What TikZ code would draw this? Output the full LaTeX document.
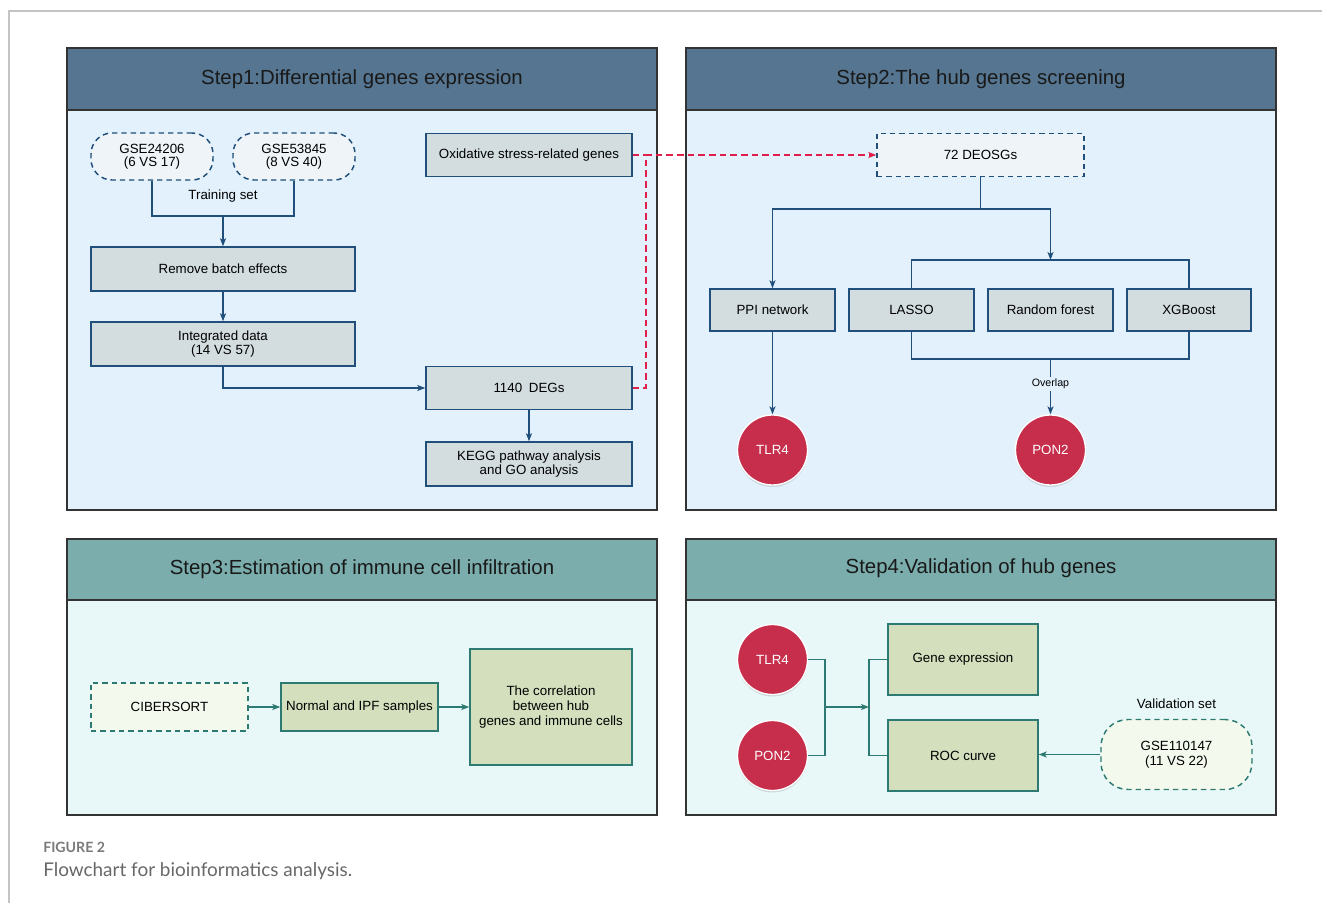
\documentclass[tikz,border=0pt]{standalone}
\usepackage{fontspec}
\setmainfont{Liberation Sans}
\newfontfamily\capfont{Lato}
\usetikzlibrary{arrows.meta,shadows}
\newdimen\pxu \pxu=0.75pt
\definecolor{hdrA}{HTML}{557590}
\definecolor{bodyA}{HTML}{E3F1FC}
\definecolor{hdrB}{HTML}{7BADAD}
\definecolor{bodyB}{HTML}{E8F8F8}
\definecolor{panline}{HTML}{333333}
\definecolor{bline}{HTML}{1F4F7A}
\definecolor{gfill}{HTML}{D3DDE0}
\definecolor{dfill}{HTML}{EEF4F8}
\definecolor{tline}{HTML}{2D7A72}
\definecolor{grfill}{HTML}{D3DFBD}
\definecolor{grdfill}{HTML}{F4F9EE}
\definecolor{redc}{HTML}{D0304F}
\definecolor{redl}{HTML}{E0204A}
\definecolor{framegray}{HTML}{C4C4C4}
\definecolor{capgray}{HTML}{7A7A7A}
\tikzset{
  boxtext/.style={font=\fontsize{10}{10}\selectfont, align=center, text=black},
  gbox/.style={boxtext, draw=bline, fill=gfill, line width=1.1pt, inner sep=0pt},
  dbox/.style={boxtext, draw=bline, fill=dfill, line width=1.1pt, inner sep=0pt, dash pattern=on 4pt off 3pt},
  grbox/.style={boxtext, draw=tline, fill=grfill, line width=1.1pt, inner sep=0pt},
  grdbox/.style={boxtext, draw=tline, fill=grdfill, line width=1.1pt, inner sep=0pt, dash pattern=on 4pt off 3pt},
  hub/.style={circle, fill=redc!95!black, draw=white, line width=1pt, minimum size=70\pxu, inner sep=0pt,
    text=white, font=\fontsize{10}{11}\selectfont,
    drop shadow={opacity=0.25, shadow xshift=0pt, shadow yshift=-1.5pt}},
  bl/.style={draw=bline, line width=1pt},
  tl/.style={draw=tline, line width=1pt},
  rd/.style={draw=redl, line width=1.5pt, dash pattern=on 5pt off 3pt},
  >={Stealth[length=6pt,width=4.5pt,inset=1.5pt]},
  title/.style={font=\fontsize{15.3}{17}\selectfont, text=black!90},
  panel/.style={draw=panline, line width=1.3pt},
  lbl/.style={font=\fontsize{10}{11}\selectfont, text=black}
}
\begin{document}
\begin{tikzpicture}[x=0.75pt,y=-0.75pt]
\useasboundingbox (0,0) rectangle (1322,903);
\fill[white] (0,0) rectangle (1322,903);
\draw[framegray, line width=1pt] (9,903) -- (9,11) -- (1322,11);

% ---------- panels ----------
\fill[bodyA] (67,48) rectangle (657,510);
\fill[hdrA] (67,48) rectangle (657,110);
\draw[panel] (67,110) -- (657,110);
\draw[panel] (67,48) rectangle (657,510);
\node[title] (t1) at (362,79) {Step1:Differential genes expression};

\fill[bodyA] (686,48) rectangle (1276,510);
\fill[hdrA] (686,48) rectangle (1276,110);
\draw[panel] (686,110) -- (1276,110);
\draw[panel] (686,48) rectangle (1276,510);
\node[title] (t2) at (981,79) {Step2:The hub genes screening};

\fill[bodyB] (67,539) rectangle (657,815);
\fill[hdrB] (67,539) rectangle (657,600);
\draw[panel] (67,600) -- (657,600);
\draw[panel] (67,539) rectangle (657,815);
\node[title] (t3) at (362,569) {Step3:Estimation of immune cell infiltration};

\fill[bodyB] (686,539) rectangle (1276,815);
\fill[hdrB] (686,539) rectangle (1276,600);
\draw[panel] (686,600) -- (1276,600);
\draw[panel] (686,539) rectangle (1276,815);
\node[title] (t4) at (981,568) {Step4:Validation of hub genes};

% ---------- Step 1 ----------
\node[dbox, rounded corners=21\pxu, minimum width=122\pxu, minimum height=47\pxu] (g1) at (152,156.5) {GSE24206\\(6 VS 17)};
\node[dbox, rounded corners=21\pxu, minimum width=122\pxu, minimum height=47\pxu] (g2) at (294,156.5) {GSE53845\\(8 VS 40)};
\node[lbl] (tsl) at (223,196) {Training set};
\coordinate (tsj) at (223,216);
\node[gbox, minimum width=264\pxu, minimum height=44\pxu] (rbe) at (223,269) {Remove batch effects};
\node[gbox, minimum width=264\pxu, minimum height=44\pxu] (int) at (223,344) {Integrated data\\(14 VS 57)};
\node[gbox, minimum width=206\pxu, minimum height=43\pxu] (ox) at (529,155) {Oxidative stress-related genes};
\node[gbox, minimum width=206\pxu, minimum height=43\pxu] (degs) at (529,388) {1140\enspace DEGs};
\node[gbox, minimum width=206\pxu, minimum height=44\pxu] (kegg) at (529,464) {KEGG pathway analysis\\and GO analysis};

\draw[bl] (g1.south) |- (tsj) -| (g2.south);
\draw[bl,->] (tsj) -- (rbe.north);
\draw[bl,->] (rbe.south) -- (int.north);
\draw[bl,->] (int.south) |- (degs.west);
\draw[bl,->] (degs.south) -- (kegg.north);

% ---------- Step 2 ----------
\node[dbox, minimum width=207\pxu, minimum height=43\pxu] (deosg) at (980.5,155) {72 DEOSGs};
\draw[rd] (ox.east) -- (645,155);
\draw[rd,->] (degs.east) -- ++(13,0) |- (deosg.west);

\node[gbox, minimum width=125\pxu, minimum height=42\pxu] (ppi) at (772.5,310) {PPI network};
\node[gbox, minimum width=125\pxu, minimum height=42\pxu] (lasso) at (911.5,310) {LASSO};
\node[gbox, minimum width=125\pxu, minimum height=42\pxu] (rf) at (1050.5,310) {Random forest};
\node[gbox, minimum width=124\pxu, minimum height=42\pxu] (xgb) at (1189,310) {XGBoost};
\coordinate (s2) at (980.5,209);
\coordinate (rfj) at (1050.5,260);
\coordinate (ovj) at (1050.5,359);
\node[hub] (tlrA) at (772.5,450) {TLR4};
\node[hub] (ponA) at (1050.5,450) {PON2};

\draw[bl] (deosg.south) -- (s2);
\draw[bl,->] (s2) -| (ppi.north);
\draw[bl,->] (s2) -| (rfj);
\draw[bl] (lasso.north) |- (rfj) -| (xgb.north);
\draw[bl] (lasso.south) |- (ovj) -| (xgb.south);
\draw[bl,->] (ppi.south) -- (tlrA.north);
\draw[bl,->] (ovj) -- (ponA.north);
\node[font=\fontsize{8}{9}\selectfont, fill=bodyA, inner sep=1.2pt] (ovl) at (1050.5,384) {Overlap};

% ---------- Step 3 ----------
\node[grdbox, minimum width=157\pxu, minimum height=48\pxu] (cib) at (169.5,707) {CIBERSORT};
\node[grbox, minimum width=157\pxu, minimum height=48\pxu] (nis) at (359.5,707) {Normal and IPF samples};
\node[grbox, minimum width=162\pxu, minimum height=116\pxu, font=\fontsize{10}{11.3}\selectfont] (cor) at (551,707) {The correlation\\between hub\\genes and immune cells};
\draw[tl,->] (cib.east) -- (nis.west);
\draw[tl,->] (nis.east) -- (cor.west);

% ---------- Step 4 ----------
\node[hub] (tlrB) at (772.5,659.5) {TLR4};
\node[hub] (ponB) at (772.5,755.5) {PON2};
\node[grbox, minimum width=150\pxu, minimum height=71\pxu] (gex) at (963,659.5) {Gene expression};
\node[grbox, minimum width=150\pxu, minimum height=71\pxu] (roc) at (963,755.5) {ROC curve};
\node[grdbox, rounded corners=27\pxu, minimum width=151\pxu, minimum height=70\pxu, font=\fontsize{10}{11}\selectfont] (gse3) at (1176.5,754.5) {GSE110147\\(11 VS 22)};
\node[lbl] (vsl) at (1176.5,703.5) {Validation set};
\coordinate (j1) at (825,707);
\coordinate (j2) at (869,707);
\draw[tl] (tlrB.east) -| (j1);
\draw[tl] (ponB.east) -| (j1);
\draw[tl,->] (j1) -- (j2);
\draw[tl] (gex.west) -| (j2);
\draw[tl] (roc.west) -| (j2);
\draw[tl,->] (gse3.west) -- (roc.east |- gse3.west);

% ---------- caption ----------
\node[anchor=base west, inner sep=0pt, text=capgray, font=\capfont\bfseries\fontsize{10.6}{12}\selectfont] (fig) at (43,852) {FIGURE 2};
\node[anchor=base west, inner sep=0pt, text=capgray!85!black, font=\capfont\fontsize{14.2}{16}\selectfont] (cap) at (43,876) {Flowchart for bioinformatics analysis.};
\end{tikzpicture}
\end{document}
